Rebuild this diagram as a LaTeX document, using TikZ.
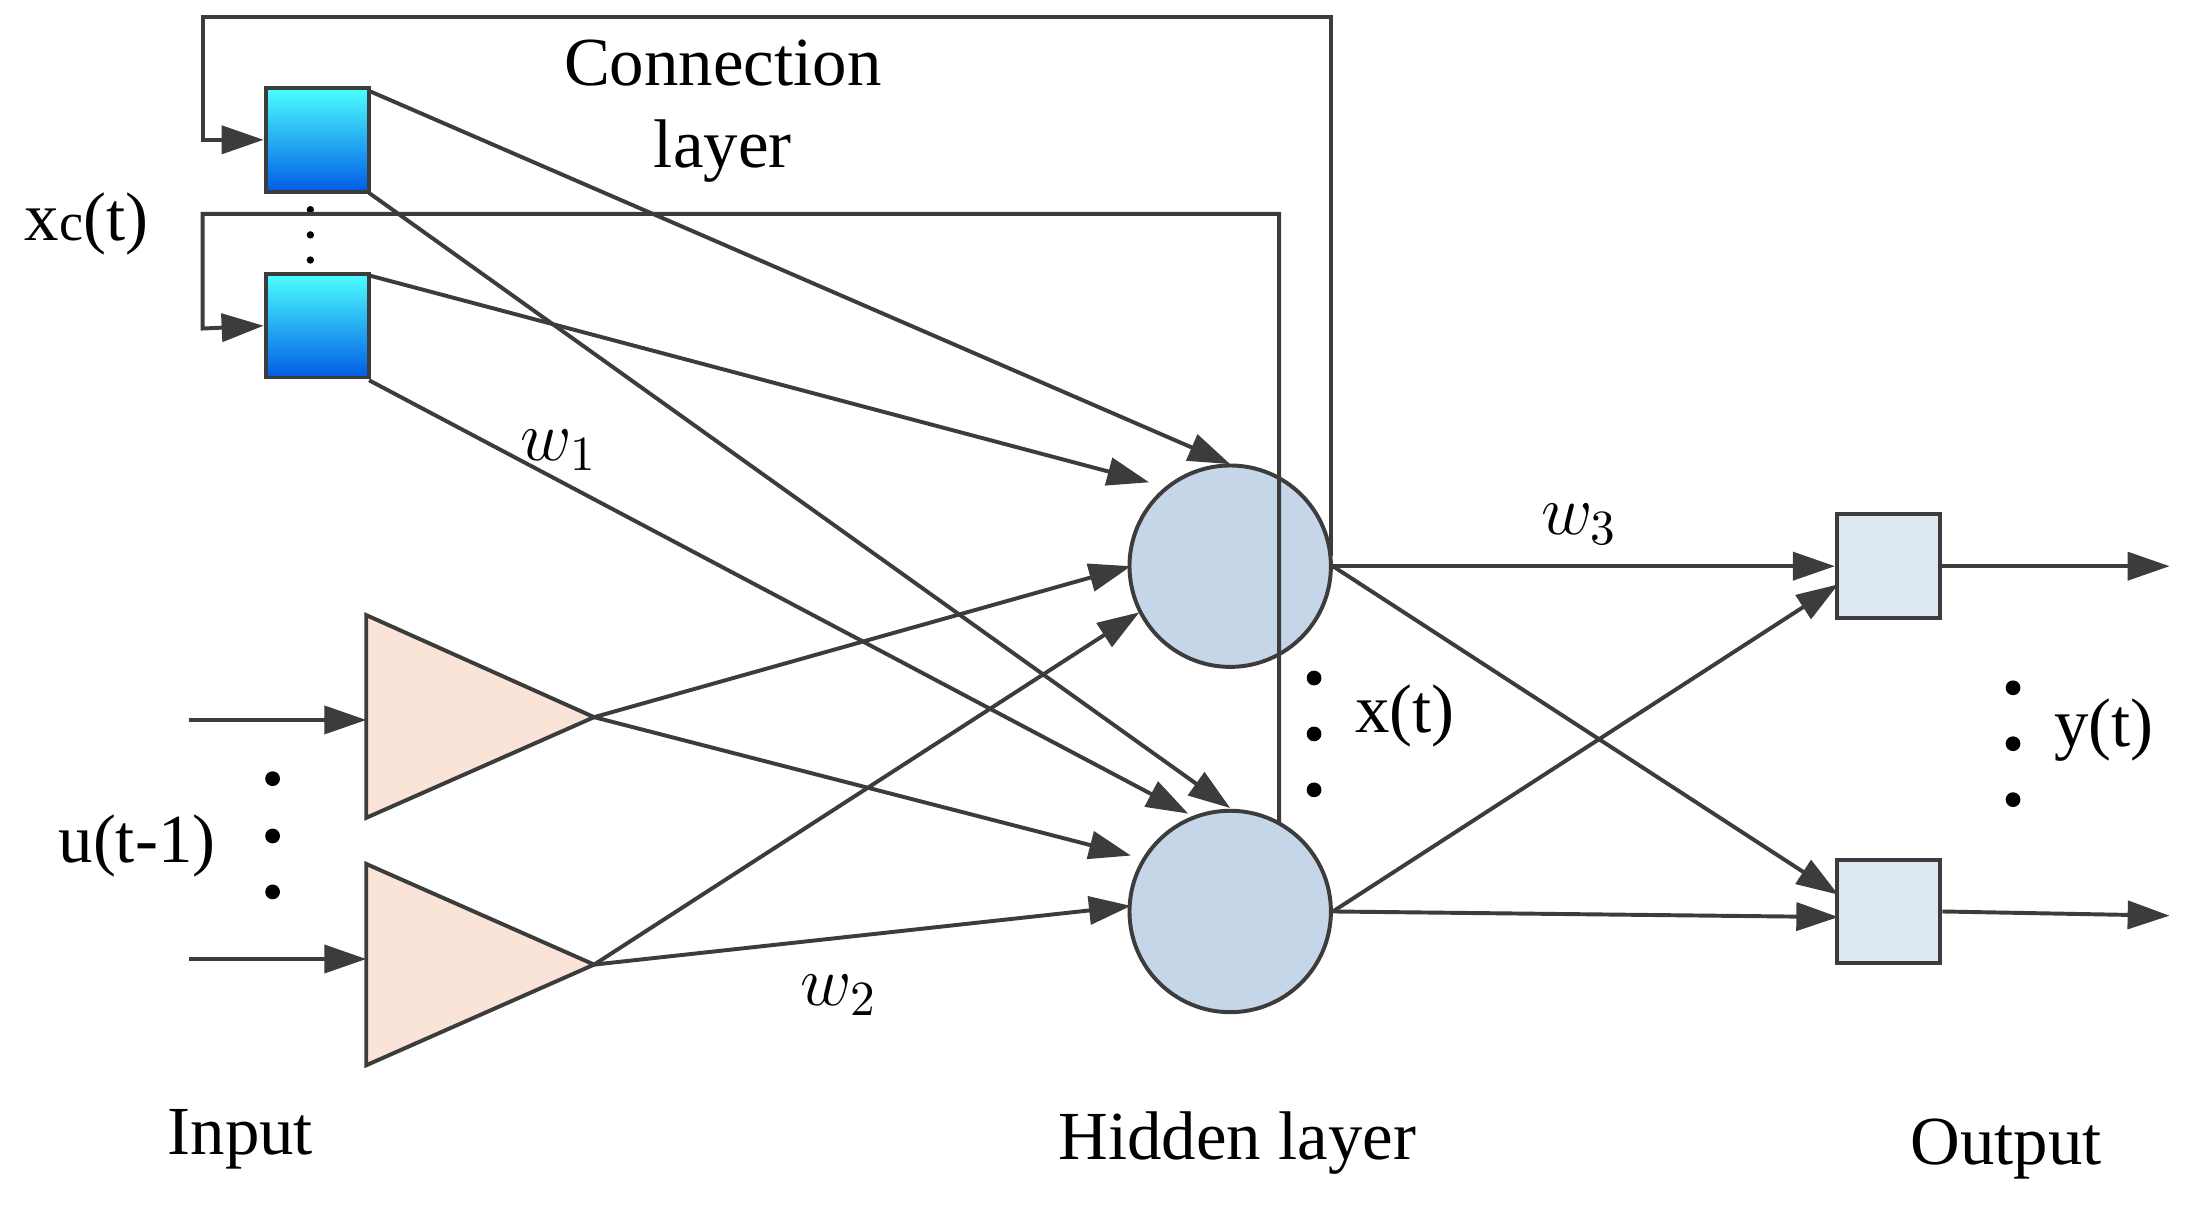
\documentclass[tikz,border=0pt]{standalone}
\usepackage{fontspec}
\setmainfont{Liberation Serif}
\usetikzlibrary{arrows.meta,calc}
\definecolor{peach}{RGB}{250,228,215}
\definecolor{hid}{RGB}{196,214,232}
\definecolor{outc}{RGB}{221,232,243}
\definecolor{ln}{RGB}{60,60,60}
\begin{document}
\begin{tikzpicture}[x=0.01cm,y=-0.01cm,
  line width=0.8pt, draw=ln,
  arr/.style={-{Triangle[length=0.3cm,width=0.2cm]},ln,line width=0.8pt},
  ctx/.style={draw=ln,top color=cyan!70!white,bottom color=blue!60!cyan!90!black,minimum size=0.74cm,inner sep=0pt},
  hidn/.style={circle,draw=ln,fill=hid,minimum size=1.44cm,inner sep=0pt},
  outn/.style={draw=ln,fill=outc,minimum size=0.74cm,inner sep=0pt},
  lab/.style={font=\fontsize{14pt}{16pt}\selectfont},
  dot/.style={circle,fill=black,inner sep=0pt,minimum size=3pt}]
\useasboundingbox (0,0) rectangle (1568,863);
% nodes
\node[ctx] (c1) at (227,100) {};
\node[ctx] (c2) at (227,233) {};
\node[hidn] (h1) at (880,405) {};
\node[hidn] (h2) at (880,652) {};
\node[outn] (o1) at (1351,405) {};
\node[outn] (o2) at (1351,652) {};
\draw[fill=peach] (262,440) -- (262,585) -- (425,513) -- cycle;
\draw[fill=peach] (262,618) -- (262,762) -- (425,690) -- cycle;
\coordinate (t1) at (425,513);
\coordinate (t2) at (425,690);
% context dots
\foreach \y in {150,168,186} \node[circle,fill=black,inner sep=0pt,minimum size=1.5pt] at (222,\y) {};
% feedback loops
\coordinate (f1) at (952,398);
\coordinate (f2) at (915,589);
\draw[arr] (f1) -- (952,12) -- (145,12) -- (145,100) -- (c1.west);
\draw[arr] (f2) -- (915,153) -- (145,153) -- (145,235) -- (c2.west);
% context -> hidden
\draw[arr] (264,65) -- (880,332);
\draw[arr] (264,138) -- (880,578);
\draw[arr] (264,197) -- (822,345);
\draw[arr] (264,272) -- (850,582);
% input arrows
\coordinate (i1) at (135,515);
\coordinate (i2) at (135,686);
\draw[arr] (i1) -- (262,515);
\draw[arr] (i2) -- (262,686);
% triangles -> hidden
\draw[arr] (t1) -- (809,405);
\draw[arr] (t1) -- (809,612);
\draw[arr] (t2) -- (815,438);
\draw[arr] (t2) -- (809,648);
% hidden -> output
\draw[arr] (h1.east) -- (o1.west);
\draw[arr] (h1.east) -- (1315,640);
\draw[arr] (h2.east) -- (1315,418);
\draw[arr] (h2.east) -- (1315,656);
% outputs
\coordinate (e1) at (1552,405);
\coordinate (e2) at (1552,655);
\draw[arr] (o1.east) -- (e1);
\draw[arr] (o2.east) -- (e2);
% dots
\foreach \y in {557,598,638} \node[dot] at (195,\y) {};
\foreach \y in {485,525,565} \node[dot] at (940,\y) {};
\foreach \y in {492,532,572} \node[dot] at (1440,\y) {};
% labels
\node[lab] at (517,45) {Connection};
\node[lab] at (517,108) {layer};
\node[lab] at (62,160) {x{\fontsize{11pt}{12pt}\selectfont c}(t)};
\node[lab] at (98,605) {u(t-1)};
\node[lab] at (1005,512) {x(t)};
\node[lab] at (1505,522) {y(t)};
\node[lab] at (400,322) {$w_1$};
\node[lab] at (600,712) {$w_2$};
\node[lab] at (1130,375) {$w_3$};
\node[lab] at (172,815) {Input};
\node[lab] at (885,818) {Hidden layer};
\node[lab] at (1435,822) {Output};
\end{tikzpicture}
\end{document}
